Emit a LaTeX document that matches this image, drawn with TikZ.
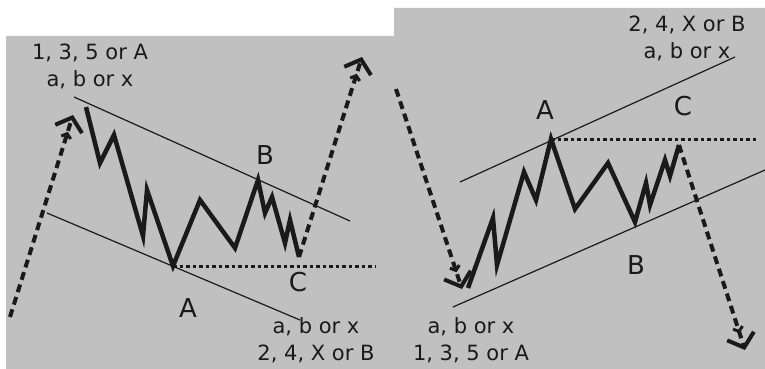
\documentclass[tikz,border=0pt]{standalone}
\usepackage{fontspec}
\setmainfont{DejaVu Sans}
\usepackage{tikz}
\usetikzlibrary{arrows.meta}
\definecolor{panelgray}{HTML}{C0C0C0}
\definecolor{inkdark}{HTML}{1A1A1A}

\begin{document}
\begin{tikzpicture}[
  x=1pt, y=-1pt,
  every node/.style={font=\fontsize{21}{27}\selectfont, align=center, text=inkdark, inner sep=0pt},
  lettertag/.style={font=\fontsize{26}{26}\selectfont},
  wave/.style={line width=4.5pt, draw=inkdark, line join=miter, miter limit=6},
  chan/.style={line width=1.2pt, draw=inkdark},
  flatline/.style={line width=3pt, draw=inkdark, dash pattern=on 3.5pt off 3pt},
  trend/.style={line width=4pt, draw=inkdark, dash pattern=on 8pt off 5pt,
    -{Straight Barb[length=4pt, width=10pt, line width=3pt, sep=1pt]
      Straight Barb[length=12pt, width=28pt, line width=4pt]}}
]
\useasboundingbox (0,0) rectangle (765,369);
\fill[white] (0,0) rectangle (765,369);
\fill[panelgray] (6,36) -- (394,36) -- (394,8) -- (765,8) -- (765,369) -- (6,369) -- cycle;

% left panel: falling correction
\coordinate (lstart) at (10,317);
\coordinate (ltip) at (73,115);
\coordinate (lend) at (362,57);
\draw[chan] (74,97) -- (350,221);
\draw[chan] (47,213) -- (300,320);
\draw[wave] (86,107) -- (100,163) -- (114,135) -- (143,236) -- (147,190)
  -- (173,266) coordinate (lA) -- (200,200) -- (235,248)
  -- (258,180) coordinate (lB) -- (265,213) -- (272,197) -- (285,243) -- (290,220)
  -- (299,257) coordinate (lC);
\coordinate (lflat) at (375,266);
\draw[flatline] (lA) -- (lflat);
\draw[trend] (lstart) -- (ltip);
\draw[trend] (lC) -- (lend);

\node (ltop) at (90,66) {1, 3, 5 or A\\a, b or x};
\node (lbot) at (316,340) {a, b or x\\2, 4, X or B};
\node[lettertag] (lAlab) at (188,308) {A};
\node[lettertag] (lBlab) at (265,155) {B};
\node[lettertag] (lClab) at (298,282) {C};

% right panel: rising correction
\coordinate (rstart) at (396,89);
\coordinate (rtip) at (462,289);
\coordinate (rend) at (745,350);
\draw[chan] (460,182) -- (735,57);
\draw[chan] (453,307) -- (765,170);
\draw[wave] (468,288) -- (493,218) -- (497,265) -- (524,172) -- (536,200)
  -- (551,139) coordinate (rA) -- (575,209) -- (608,163)
  -- (635,222) coordinate (rB) -- (646,183) -- (650,205) -- (665,160) -- (670,176)
  -- (679,145) coordinate (rC);
\coordinate (rflat) at (757,139);
\draw[flatline] (rA) -- (rflat);
\draw[trend] (rstart) -- (rtip);
\draw[trend] (rC) -- (rend);

\node (rtop) at (687,38) {2, 4, X or B\\a, b or x};
\node (rbot) at (471,340) {a, b or x\\1, 3, 5 or A};
\node[lettertag] (rAlab) at (545,110) {A};
\node[lettertag] (rBlab) at (636,265) {B};
\node[lettertag] (rClab) at (683,106) {C};
\end{tikzpicture}
\end{document}
